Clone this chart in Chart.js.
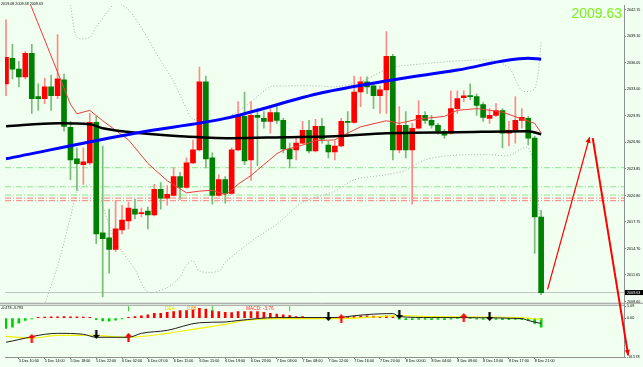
<!DOCTYPE html>
<html>
<head>
<meta charset="utf-8">
<script src="https://cdn.jsdelivr.net/npm/chart.js@4.4.0/dist/chart.umd.min.js"></script>
<style>
html, body { margin: 0; padding: 0; background: #F0FFF0; }
#wrap { position: relative; width: 643px; height: 367px; overflow: hidden; }
</style>
</head>
<body>
<div id="wrap"><canvas id="chart" width="643" height="367"></canvas></div>
<script>
// H1 bars, index 0 = 5 Dec 08:00 ... index 83 = 8 Dec 22:00
var open  = [2033.64,2036.59,2035.34,2034.44,2037.16,2032.17,2031.94,2033.30,2032.28,2034.10,
             2028.65,2025.02,2024.34,2024.56,2029.22,2016.51,2015.94,2014.58,2016.85,2017.87,
             2019.23,2018.72,2019.00,2018.55,2021.50,2020.48,2020.82,2022.97,2021.73,2024.56,
             2026.04,2033.87,2025.13,2020.82,2022.63,2021.05,2026.04,2029.90,2024.90,2030.01,
             2029.67,2029.33,2030.35,2029.44,2026.15,2026.04,2026.83,2028.31,2025.93,2028.76,
             2026.61,2025.81,2026.49,2029.33,2029.22,2032.71,2033.87,2033.41,2032.28,2032.96,
             2036.82,2026.04,2028.88,2026.04,2028.54,2030.01,2029.44,2028.88,2028.19,2027.97,
             2030.80,2032.05,2032.28,2032.17,2031.26,2029.67,2030.01,2030.58,2027.97,2028.31,
             2029.44,2029.67,2027.40,2018.32];
var high  = [2041.02,2038.18,2036.25,2037.39,2038.18,2033.64,2034.32,2034.66,2039.32,2034.78,
             2029.33,2026.27,2026.27,2030.24,2029.90,2026.49,2019.23,2020.25,2019.68,2020.02,
             2020.36,2019.34,2019.46,2022.07,2022.29,2021.95,2023.98,2023.43,2025.13,2027.17,
             2035.57,2034.55,2025.70,2023.20,2022.97,2026.27,2031.60,2032.71,2031.60,2030.80,
             2030.46,2031.03,2031.03,2029.67,2026.83,2027.40,2029.33,2029.44,2029.56,2029.67,
             2027.06,2027.06,2029.67,2030.46,2034.55,2034.44,2034.44,2033.64,2033.41,2039.66,
             2037.05,2031.03,2030.46,2029.10,2031.71,2030.46,2030.01,2029.10,2028.42,2032.85,
             2032.85,2032.85,2033.64,2032.51,2031.49,2030.80,2031.37,2030.80,2029.33,2032.17,
             2030.80,2029.90,2027.63,2019.08];
var low   = [2032.28,2034.21,2033.30,2034.21,2030.24,2030.58,2031.37,2030.58,2031.94,2028.19,
             2022.63,2021.39,2022.07,2024.34,2015.26,2009.13,2011.85,2014.35,2016.39,2016.96,
             2018.10,2018.32,2016.96,2018.44,2019.23,2019.68,2020.71,2020.36,2021.61,2024.45,
             2025.93,2023.98,2019.80,2020.71,2019.91,2020.93,2025.93,2024.34,2022.52,2024.22,
             2028.54,2027.97,2029.10,2025.70,2023.98,2024.90,2026.72,2025.70,2025.81,2026.83,
             2025.13,2024.90,2026.38,2027.63,2029.10,2031.03,2032.51,2030.80,2030.24,2030.24,
             2024.90,2025.70,2025.13,2019.80,2028.42,2029.10,2028.54,2027.85,2027.40,2027.85,
             2030.24,2031.60,2031.83,2030.01,2029.33,2029.10,2029.90,2026.27,2026.49,2026.83,
             2028.54,2026.61,2014.12,2009.38];
var close = [2036.71,2035.34,2034.44,2037.16,2031.94,2031.94,2033.30,2032.28,2034.21,2028.76,
             2024.90,2024.45,2024.68,2029.22,2016.39,2015.83,2014.58,2016.96,2017.98,2019.34,
             2018.66,2018.83,2018.55,2021.50,2020.48,2020.93,2022.97,2021.73,2024.56,2026.04,
             2033.87,2025.02,2020.82,2022.63,2021.05,2026.04,2029.90,2024.79,2030.01,2029.78,
             2029.33,2030.35,2029.44,2026.15,2025.02,2026.83,2028.31,2025.93,2028.76,2027.29,
             2025.81,2026.49,2029.33,2029.22,2032.71,2033.87,2033.30,2032.28,2032.96,2036.82,
             2026.04,2028.88,2026.04,2028.54,2030.01,2029.44,2028.88,2028.19,2027.74,2030.80,
             2031.94,2032.28,2032.17,2031.15,2029.78,2030.01,2030.58,2027.97,2028.31,2029.44,
             2029.78,2027.40,2018.32,2009.63];

// moving averages / bands read at selected bars
var redMaIdx = [0,4,10,11,13,15,19,22,25,28,30,32,34,35,36,38,42,43,46,48,51,52,55,59,61,64,68,70,73,77,80,82,83];
var redMaVal = [2049.6,2042.4,2031.3,2030.2,2030.6,2029.4,2027.2,2024.5,2022.5,2021.1,2021.3,2021.4,2020.9,2021.4,2022.1,2023.1,
                2025.6,2026.0,2026.6,2027.1,2027.2,2027.6,2028.7,2029.4,2029.1,2029.6,2029.9,2030.6,2030.8,2030.4,2029.6,2029.1,2028.0];
var blackMaIdx = [0,8,13,15,21,27,35,43,51,59,70,81,83];
var blackMaVal = [2028.76,2029.10,2028.99,2028.54,2027.97,2027.63,2027.40,2027.51,2027.63,2027.97,2028.08,2028.19,2027.85];
var blueMaIdx = [0,20,34,49,59,70,81,83];
var blueMaVal = [2025.02,2027.97,2029.67,2032.62,2033.98,2035.23,2036.59,2036.48];
var upperIdx = [9,10,11,13,14,16,17,18,19,21,24,26,28,29,33,36,38,41,43,49,51,55,59,61,75,78,80,82,83];
var upperVal = [2046.1,2042.7,2039.0,2039.0,2040.2,2042.2,2043.0,2042.7,2042.2,2040.1,2036.3,2033.9,2030.8,2029.6,2029.4,
                2030.5,2031.6,2033.3,2033.4,2033.4,2033.3,2033.9,2035.3,2035.7,2036.4,2035.5,2032.9,2033.1,2038.4];
var lowerIdx = [5,6,8,10,11,12,13,14,15,17,20,22,25,27,28,29,30,33,34,38,42,46,51,54,59,62,65,69,75,78,80,81,82,83];
var lowerVal = [2004.1,2008.1,2012.7,2018.3,2021.2,2021.8,2022.0,2020.9,2019.5,2015.5,2012.3,2009.7,2010.2,2011.4,2012.8,
                2013.3,2012.1,2012.1,2013.1,2015.5,2017.5,2020.0,2021.3,2022.6,2023.2,2023.7,2024.9,2025.4,2025.5,2025.4,
                2026.2,2026.3,2024.0,2016.0];
var greenLevels = [2024.0, 2021.8, 2020.85];
var redLevels = [2020.5, 2020.2];
var bidPrice = 2009.63;

// MACD pane
var macdHist = [-4.4,-3.8,-2.1,-1.0,-0.3,0.4,0.5,0.6,0.6,0.7,0.6,0.6,0.5,0.4,-0.6,-1.2,-1.3,-0.9,-0.3,0.3,
                0.7,1.0,1.4,2.1,2.1,2.5,2.8,3.2,3.2,3.5,4.2,3.9,3.2,2.8,2.5,2.4,2.8,2.8,2.8,2.8,
                2.5,2.1,1.7,1.4,1.1,0.7,0.7,0.3,0.2,-0.2,-0.3,0.1,0.3,0.5,0.8,1.0,1.0,0.9,0.8,1.0,
                0.6,-0.4,-0.6,-0.6,-0.5,-0.5,-0.6,-0.5,-0.6,-0.4,-0.2,0.1,-0.2,-0.4,-0.5,-0.4,-0.5,-0.6,-0.6,-0.5,
                -0.6,-1.0,-2.3,-3.9];
var macdIdx = [0,8,12,14,19,21,25,30,34,36,42,46,51,55,59,60,61,66,80,81,83];
var macdVal = [-10.27,-6.48,-6.90,-8.16,-8.16,-6.48,-5.22,-1.95,-1.64,-1.01,0.25,0.25,0.25,1.30,1.93,1.93,0.67,0.25,-0.17,-1.01,-2.27];
var signalIdx = [0,4,8,13,19,25,29,32,34,37,42,46,52,58,61,66,80,83];
var signalVal = [-7.74,-8.58,-7.32,-7.32,-8.16,-6.48,-4.80,-3.53,-2.69,-1.01,-0.17,-0.17,-0.17,0.67,1.09,0.67,0.25,-0.59];
var buyIdx = [4,19,52,71];
var buyVal = [-8.58,-8.16,-0.17,0.25];
var sellIdx = [14,50,61,75];
var sellVal = [-6.90,0.67,1.51,0.67];
var tinyIdx = [19,32,44];
var tinyVal = [4.0,4.0,4.0];

// hand-drawn arrows (bar index, price), with line width of each
var arrowIdx = [84, 90.5, 91, 96.5];
var arrowVal = [2010.0, 2027.5, 2027.4, 2002.4];
var arrowWidth = [1.2, 2];

// axes
var priceTicks = [2042.15,2040.65,2039.10,2037.60,2036.05,2034.55,2033.00,2031.50,2029.95,2028.45,2026.90,2025.40,
                  2023.85,2022.35,2020.80,2019.30,2017.75,2016.25,2014.70,2013.20,2011.65,2010.15,2008.60];
var macdTicks = [5.09, 0, -16.578];
var macdTickText = ['5.09', '0.00', '-16.578'];
var timeIdx = [2,6,10,14,18,22,26,30,34,38,42,46,50,54,58,62,66,70,74,78,82];
var timeText = ['5 Dec 10:00','5 Dec 14:00','5 Dec 18:00','5 Dec 22:00','6 Dec 02:00','6 Dec 07:00','6 Dec 11:00',
                '6 Dec 15:00','6 Dec 19:00','6 Dec 23:00','7 Dec 03:00','7 Dec 08:00','7 Dec 12:00','7 Dec 16:00',
                '7 Dec 20:00','8 Dec 00:00','8 Dec 04:00','8 Dec 09:00','8 Dec 13:00','8 Dec 17:00','8 Dec 21:00'];

var xMin = -0.154, xMax = 95.85;
var axisFont = {family: '"Liberation Sans", Arial, sans-serif', size: 3.7};

function pts(idx, val) {
    return idx.map(function (x, k) { return {x: x, y: val[k]}; });
}

var bodyData = [], wickData = [], bodyColors = [], wickColors = [];
open.forEach(function (o, i) {
    var up = close[i] >= o;
    bodyData.push({x: i, y: [o, close[i]]});
    wickData.push({x: i, y: [low[i], high[i]]});
    bodyColors.push(up ? '#FF0000' : '#008000');
    wickColors.push(up ? '#FF8A8A' : '#78BC78');
});

function arrowIcon(color, up) {
    var c = document.createElement('canvas');
    c.width = 7; c.height = 9;
    var g = c.getContext('2d');
    g.fillStyle = color;
    if (!up) { g.translate(0, 9); g.scale(1, -1); }
    g.beginPath();
    g.moveTo(3.5, 0); g.lineTo(7, 4); g.lineTo(4.6, 4); g.lineTo(4.6, 9);
    g.lineTo(2.4, 9); g.lineTo(2.4, 4); g.lineTo(0, 4);
    g.closePath(); g.fill();
    return c;
}

var datasets = [];
greenLevels.forEach(function (lv) {
    datasets.push({type: 'line', yAxisID: 'y', order: 20, data: [{x: xMin, y: lv}, {x: xMax, y: lv}],
        borderColor: '#8FE68F', borderWidth: 1, borderDash: [6, 2, 1, 2], pointRadius: 0});
});
redLevels.forEach(function (lv) {
    datasets.push({type: 'line', yAxisID: 'y', order: 20, data: [{x: xMin, y: lv}, {x: xMax, y: lv}],
        borderColor: '#FF7C7C', borderWidth: 1, borderDash: [6, 2, 1, 2], pointRadius: 0});
});
datasets.push({type: 'line', yAxisID: 'y', order: 20, data: [{x: xMin, y: bidPrice}, {x: xMax, y: bidPrice}],
    borderColor: '#C0C8C0', borderWidth: 1, pointRadius: 0});
datasets.push({type: 'line', yAxisID: 'y', order: 19, data: pts(upperIdx, upperVal),
    borderColor: '#A8B0A8', borderWidth: 1, borderDash: [1, 2], pointRadius: 0, tension: 0.3});
datasets.push({type: 'line', yAxisID: 'y', order: 19, data: pts(lowerIdx, lowerVal),
    borderColor: '#A8B0A8', borderWidth: 1, borderDash: [1, 2], pointRadius: 0, tension: 0.3});
datasets.push({type: 'bar', yAxisID: 'y', order: 18, grouped: false, data: wickData,
    backgroundColor: wickColors, barThickness: 1, borderWidth: 0});
datasets.push({type: 'bar', yAxisID: 'y', order: 17, grouped: false, data: bodyData,
    backgroundColor: bodyColors, barThickness: 5, minBarLength: 1, borderWidth: 0});
datasets.push({type: 'line', yAxisID: 'y', order: 16, data: pts(redMaIdx, redMaVal),
    borderColor: '#F03C3C', borderWidth: 1, pointRadius: 0});
datasets.push({type: 'line', yAxisID: 'y', order: 15, data: pts(blackMaIdx, blackMaVal),
    borderColor: '#000000', borderWidth: 2.5, pointRadius: 0, cubicInterpolationMode: 'monotone'});
datasets.push({type: 'line', yAxisID: 'y', order: 14, data: pts(blueMaIdx, blueMaVal),
    borderColor: '#0000FF', borderWidth: 3, pointRadius: 0, cubicInterpolationMode: 'monotone'});

datasets.push({type: 'bar', yAxisID: 'y2', order: 10, grouped: false,
    data: macdHist.map(function (v, i) { return {x: i, y: v}; }),
    backgroundColor: macdHist.map(function (v) { return v >= 0 ? '#FF0000' : '#00D000'; }),
    barThickness: 2, borderWidth: 0});
datasets.push({type: 'line', yAxisID: 'y2', order: 9, data: pts(signalIdx, signalVal),
    borderColor: '#F0F000', borderWidth: 1.2, pointRadius: 0, cubicInterpolationMode: 'monotone'});
datasets.push({type: 'line', yAxisID: 'y2', order: 8, data: pts(macdIdx, macdVal),
    borderColor: '#202020', borderWidth: 1, pointRadius: 0, cubicInterpolationMode: 'monotone'});
datasets.push({type: 'scatter', yAxisID: 'y2', order: 5, data: pts(buyIdx, buyVal),
    pointStyle: arrowIcon('#FF0000', true), pointRadius: 4});
datasets.push({type: 'scatter', yAxisID: 'y2', order: 5, data: pts(sellIdx, sellVal),
    pointStyle: arrowIcon('#000000', false), pointRadius: 4});
datasets.push({type: 'scatter', yAxisID: 'y2', order: 5, data: pts(tinyIdx, tinyVal),
    pointStyle: 'line', rotation: 90, pointRadius: 2.5, borderColor: '#30D030', borderWidth: 1});

var paneClip = {
    id: 'paneClip',
    beforeDatasetDraw: function (chart, args) {
        var ys = args.meta.yScale, xs = chart.scales.x, ctx = chart.ctx;
        ctx.save();
        ctx.beginPath();
        ctx.rect(xs.left, ys.top, xs.right - xs.left, ys.bottom - ys.top);
        ctx.clip();
    },
    afterDatasetDraw: function (chart) { chart.ctx.restore(); }
};

function drawArrow(ctx, x0, y0, x1, y1) {
    ctx.beginPath(); ctx.moveTo(x0, y0); ctx.lineTo(x1, y1); ctx.stroke();
    var a = Math.atan2(y1 - y0, x1 - x0), h = 6;
    ctx.beginPath();
    ctx.moveTo(x1, y1);
    ctx.lineTo(x1 - h * Math.cos(a - 0.45), y1 - h * Math.sin(a - 0.45));
    ctx.lineTo(x1 - h * Math.cos(a + 0.45), y1 - h * Math.sin(a + 0.45));
    ctx.closePath(); ctx.fill();
}

var decor = {
    id: 'decor',
    afterDraw: function (chart) {
        var ctx = chart.ctx, xs = chart.scales.x, ys = chart.scales.y, ms = chart.scales.y2;
        ctx.save();
        // pane separator
        ctx.strokeStyle = '#989898'; ctx.lineWidth = 1;
        ctx.beginPath();
        ctx.moveTo(0, ys.bottom - 0.5); ctx.lineTo(643, ys.bottom - 0.5);
        ctx.moveTo(0, ms.top + 1.5); ctx.lineTo(xs.right, ms.top + 1.5);
        ctx.stroke();

        // drawn arrows
        ctx.strokeStyle = '#FF0000'; ctx.fillStyle = '#FF0000';
        for (var k = 0; k < arrowIdx.length; k += 2) {
            ctx.lineWidth = arrowWidth[k / 2];
            drawArrow(ctx,
                xs.getPixelForValue(arrowIdx[k]), ys.getPixelForValue(arrowVal[k]),
                xs.getPixelForValue(arrowIdx[k + 1]), ys.getPixelForValue(arrowVal[k + 1]));
        }

        // price box on axis
        var by = ys.getPixelForValue(bidPrice);
        ctx.fillStyle = '#000';
        ctx.fillRect(xs.right + 1, by - 2.5, 19, 5);
        ctx.fillStyle = '#fff';
        ctx.font = '3.7px "Liberation Sans", Arial, sans-serif';
        ctx.textBaseline = 'middle'; ctx.textAlign = 'left';
        ctx.fillText(bidPrice.toFixed(2), xs.right + 3, by);

        // header texts
        ctx.fillStyle = '#000';
        ctx.fillText('2019.08 2009.38 2009.63', 1, 4);
        ctx.fillText('-0.478 -3.793', 1, ms.top + 4);

        ctx.font = '14px "Liberation Sans", Arial, sans-serif';
        ctx.textAlign = 'right'; ctx.textBaseline = 'alphabetic';
        ctx.fillStyle = '#7CF01C';
        ctx.fillText(bidPrice.toFixed(2), 622, 18);

        ctx.font = '4.8px "Liberation Sans", Arial, sans-serif';
        ctx.textAlign = 'left'; ctx.textBaseline = 'middle';
        ctx.fillStyle = '#E6E600';
        ctx.fillText('DEA', 165, ms.top + 4.5);
        ctx.fillStyle = '#FF8A00';
        ctx.fillText('0.88', 187, ms.top + 4.5);
        ctx.fillStyle = '#FF3030';
        ctx.fillText('MACD: -3.76', 246, ms.top + 4.5);
        ctx.restore();
    }
};

new Chart(document.getElementById('chart'), {
    data: {datasets: datasets},
    plugins: [paneClip, decor],
    options: {
        responsive: false,
        animation: false,
        events: [],
        layout: {padding: 0},
        plugins: {legend: {display: false}, tooltip: {enabled: false}},
        scales: {
            x: {
                type: 'linear', position: 'bottom', min: xMin, max: xMax, offset: false,
                afterBuildTicks: function (s) { s.ticks = timeIdx.map(function (v) { return {value: v}; }); },
                afterFit: function (s) { s.height = 10; s.paddingLeft = 0; s.paddingRight = 0; },
                ticks: {
                    autoSkip: false, maxRotation: 0, minRotation: 0, align: 'start', padding: 0,
                    color: '#000', font: axisFont,
                    callback: function (v, i) { return timeText[i]; }
                },
                grid: {offset: false, drawOnChartArea: false, drawTicks: true, tickLength: 2, color: '#808080'},
                border: {display: true, color: '#909090'}
            },
            y: {
                type: 'linear', position: 'right', stack: 'panes', stackWeight: 303,
                min: 2008.34, max: 2042.72,
                afterBuildTicks: function (s) { s.ticks = priceTicks.map(function (v) { return {value: v}; }); },
                afterFit: function (s) { s.width = 19; s.paddingTop = 0; s.paddingBottom = 0; },
                ticks: {
                    padding: 1, color: '#000', font: axisFont,
                    callback: function (v) { return v.toFixed(2); }
                },
                grid: {drawOnChartArea: false, drawTicks: true, tickLength: 2, color: '#808080'},
                border: {display: true, color: '#909090'}
            },
            y2: {
                type: 'linear', position: 'right', stack: 'panes', stackWeight: 54,
                min: -16.578, max: 6.14,
                afterBuildTicks: function (s) { s.ticks = macdTicks.map(function (v) { return {value: v}; }); },
                afterFit: function (s) { s.width = 19; s.paddingTop = 0; s.paddingBottom = 0; },
                ticks: {
                    padding: 1, color: '#000', font: axisFont,
                    callback: function (v, i) { return macdTickText[i]; }
                },
                grid: {drawOnChartArea: false, drawTicks: true, tickLength: 2, color: '#808080'},
                border: {display: true, color: '#909090'}
            }
        }
    }
});
</script>
</body>
</html>
